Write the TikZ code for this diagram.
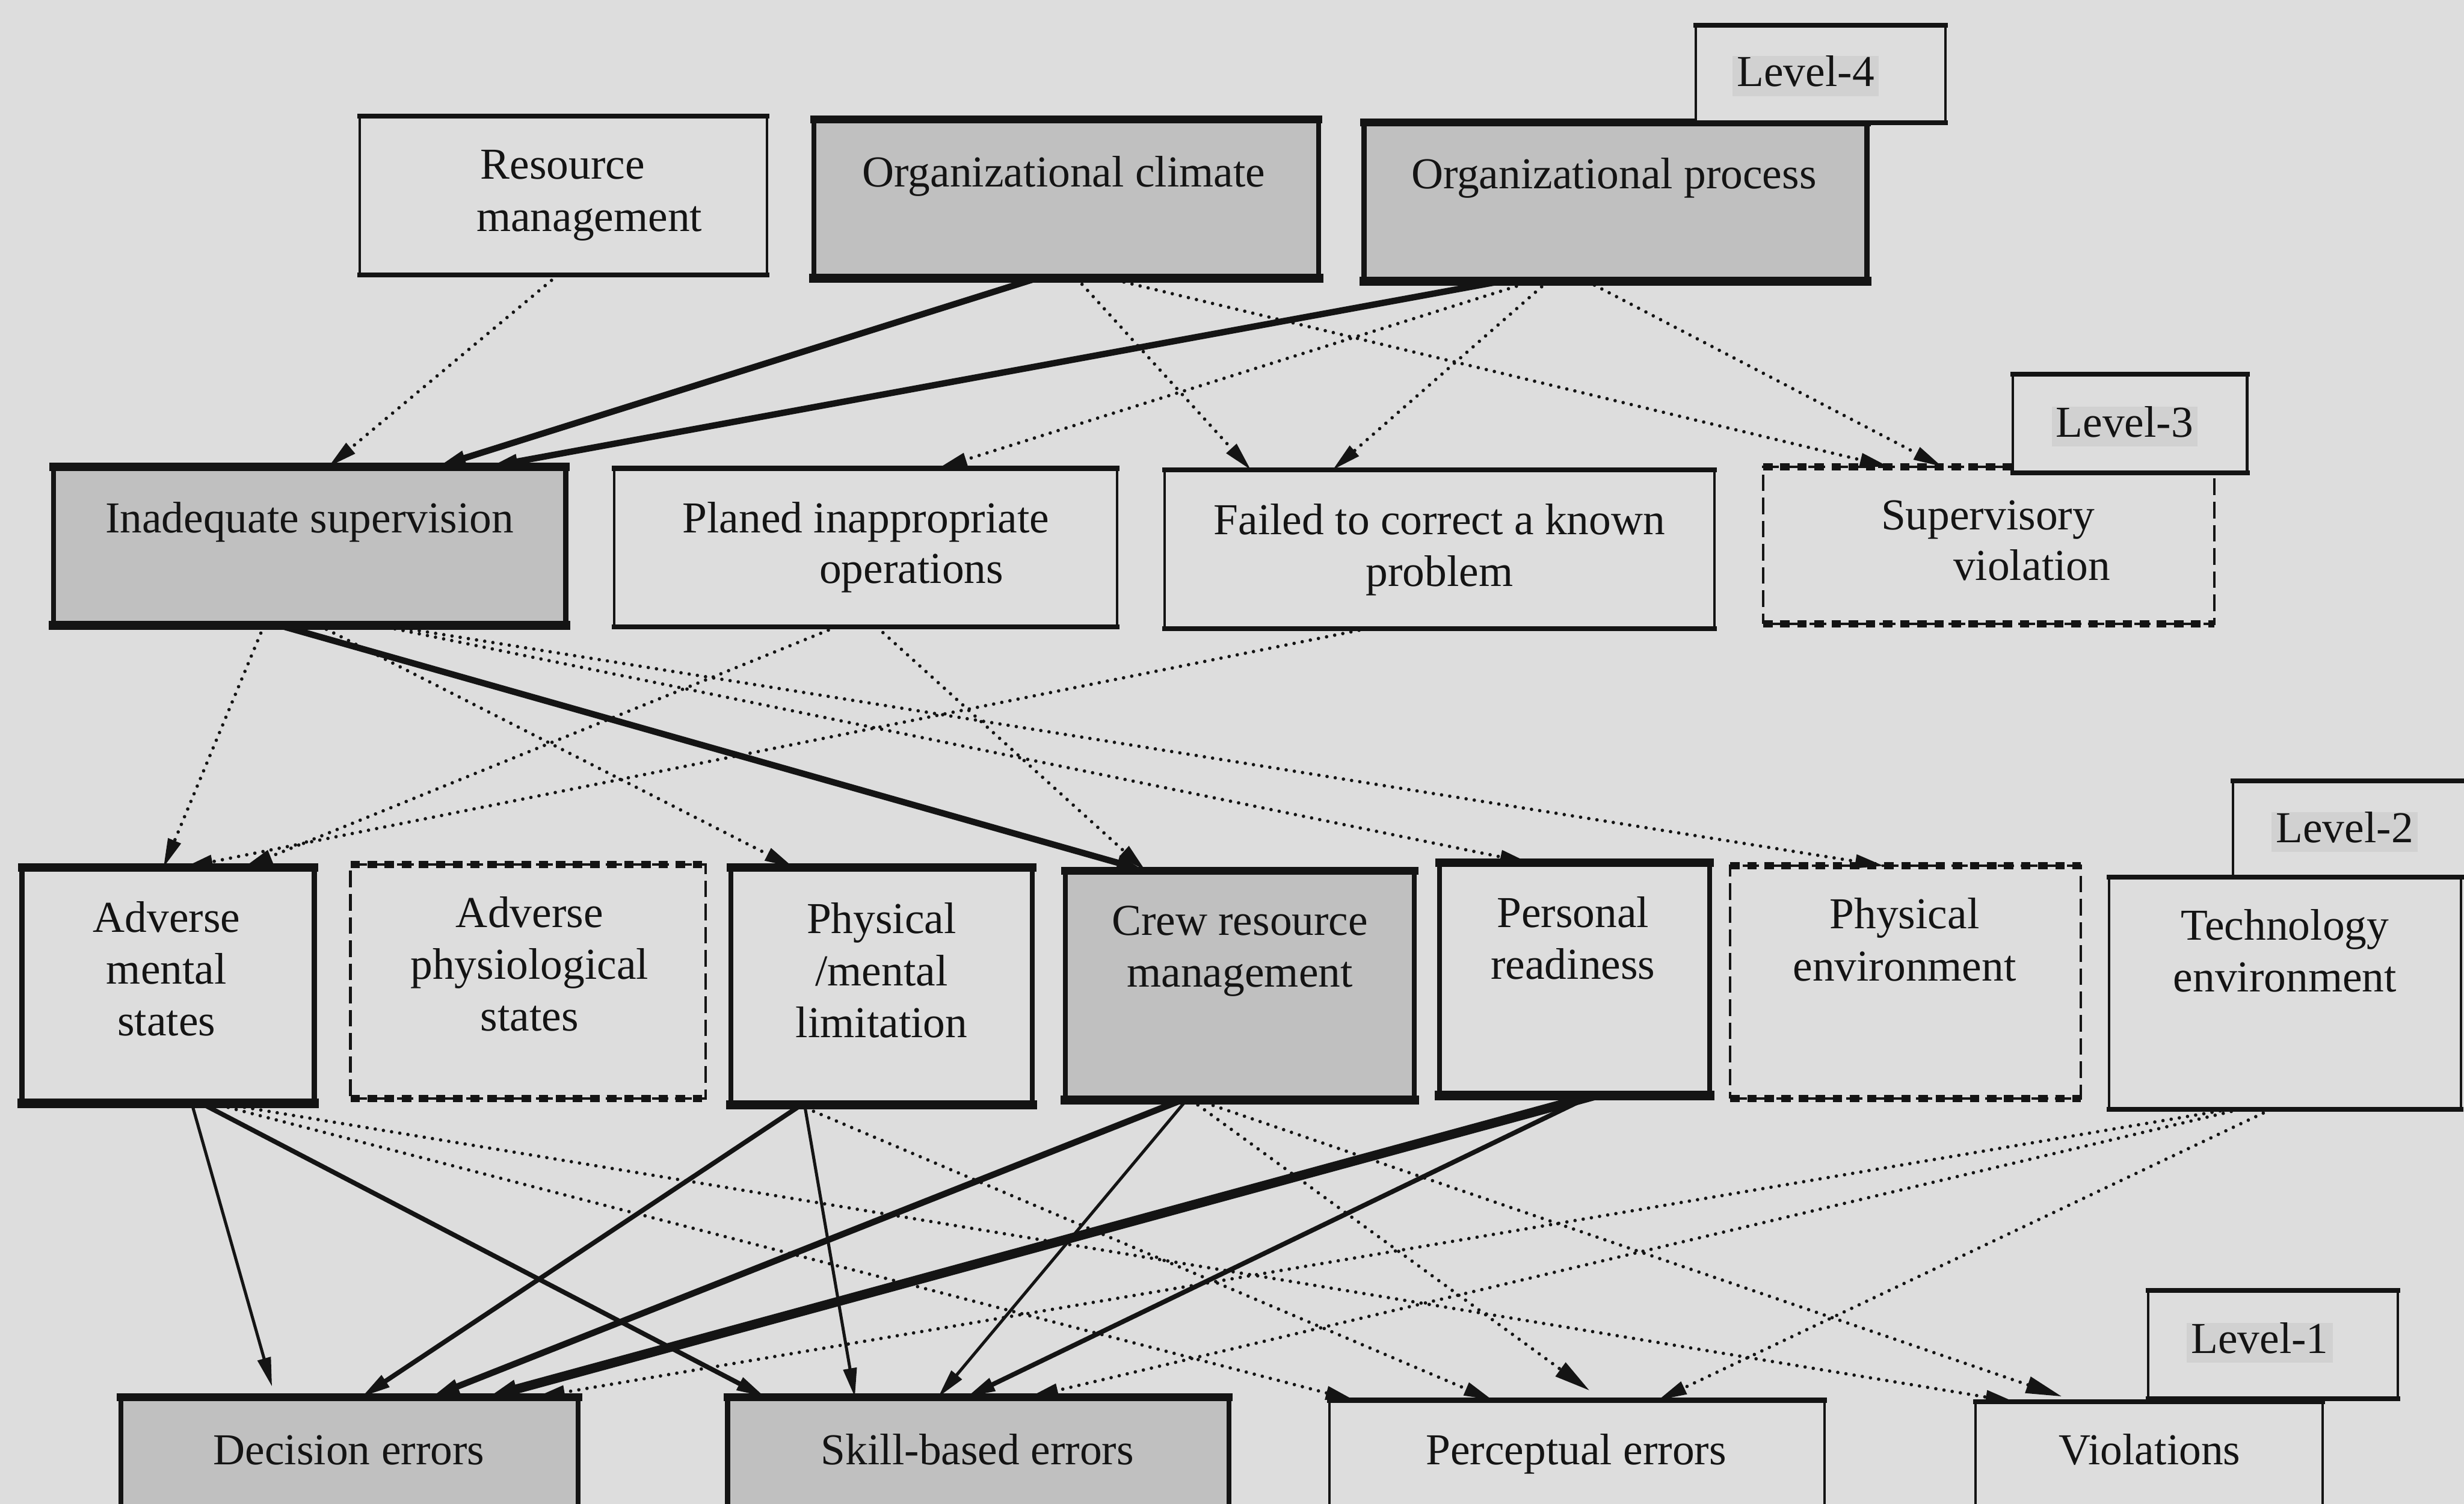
\documentclass[tikz,border=0pt]{standalone}
\usepackage{fontspec}
\setmainfont{Liberation Serif}
\usetikzlibrary{arrows.meta,fit}

\definecolor{paper}{RGB}{221,221,221}
\definecolor{shade}{RGB}{192,192,192}
\definecolor{ink}{RGB}{20,20,20}
\definecolor{tagback}{RGB}{209,209,209}

% top and bottom edges of the boxes are drawn heavier than their sides
\newcommand{\rimlight}[1]{%
  \draw[rim=1.8pt] (#1.north west) -- (#1.north east);
  \draw[rim=1.8pt] (#1.south west) -- (#1.south east);}
\newcommand{\rimheavy}[1]{%
  \draw[rim=2.9pt] (#1.north west) -- (#1.north east);
  \draw[rim=3.4pt] (#1.south west) -- (#1.south east);}
\newcommand{\rimdash}[1]{%
  \draw[dashrim] (#1.north west) -- (#1.north east);
  \draw[dashrim] (#1.south west) -- (#1.south east);}

\begin{document}
\begin{tikzpicture}[x=0.02cm,y=-0.02cm,
  every node/.style={font=\fontsize{16pt}{18.7pt}\selectfont},
  box/.style={inner sep=0pt, outer sep=0pt, fill=paper, draw=ink},
  lightbox/.style={box, line width=0.9pt},
  heavybox/.style={box, line width=1.8pt},
  greybox/.style={heavybox, fill=shade},
  dashbox/.style={box, line width=0.9pt, dash pattern=on 6pt off 2.4pt},
  rim/.style={draw=ink, line width=#1, line cap=rect},
  dashrim/.style={draw=ink, line width=2.6pt, dash pattern=on 3.4pt off 2.8pt},
  lbl/.style={inner sep=0pt, text height=11pt, text depth=3.5pt, text=ink, yshift=-1.4pt},
  tagtxt/.style={lbl, fill=tagback, inner xsep=1.5pt},
  link/.style={draw=ink, -{Triangle[length=10.5pt,width=4.8pt]}},
  dotlink/.style={link, line width=1.25pt, dash pattern=on 0pt off 3pt, line cap=round},
  bigdot/.style={dotlink, -{Triangle[length=13pt,width=6pt]}, shorten >=6pt},
  thinlink/.style={link, line width=1.1pt},
  medlink/.style={link, line width=1.7pt},
  thicklink/.style={link, line width=2.3pt},
  heavylink/.style={link, line width=3.4pt, -{Triangle[length=11pt,width=6pt]}},
]
\useasboundingbox (0,0) rectangle (1568,957);
\fill[paper] (0,0) rectangle (1568,957);

% ---------- Level 4 ----------
\node[lightbox, fit={(229,74) (488,175)}] (rm) {};
\rimlight{rm}
\node[greybox, fit={(518,76) (839,177)}] (oc) {};
\rimheavy{oc}
\node[greybox, fit={(868,78) (1188,179)}] (op) {};
\rimheavy{op}
\node[lightbox, fit={(1079,16) (1238,78)}] (t4) {};
\rimlight{t4}

\node[lbl] (rm1) at (358,105) {Resource};
\node[lbl] (rm2) at (375,138) {management};
\node[lbl] (oct) at (677,110) {Organizational climate};
\node[lbl] (opt) at (1027,111) {Organizational process};
\node[tagtxt] (t4t) at (1149,46) {Level-4};

% ---------- Level 3 ----------
\node[greybox, fit={(34,297) (360,398)}] (is) {};
\rimheavy{is}
\node[lightbox, fit={(391,298) (711,399)}] (pio) {};
\rimlight{pio}
\node[lightbox, fit={(741,299) (1091,400)}] (fcp) {};
\rimlight{fcp}
\node[dashbox, fit={(1122,297) (1409,397)}] (sv) {};
\rimdash{sv}
\node[lightbox, fit={(1281,238) (1430,301)}] (t3) {};
\rimlight{t3}

\node[lbl] (ist) at (197,330) {Inadequate supervision};
\node[lbl] (pio1) at (551,330) {Planed inappropriate};
\node[lbl] (pio2) at (580,362) {operations};
\node[lbl] (fcp1) at (916,331) {Failed to correct a known};
\node[lbl] (fcp2) at (916,364) {problem};
\node[lbl] (sv1) at (1265,328) {Supervisory};
\node[lbl] (sv2) at (1293,360) {violation};
\node[tagtxt] (t3t) at (1352,269) {Level-3};

% ---------- Level 2 ----------
\node[heavybox, fit={(14,552) (200,702)}] (ams) {};
\rimheavy{ams}
\node[dashbox, fit={(223,550) (449,699)}] (aps) {};
\rimdash{aps}
\node[heavybox, fit={(465,552) (657,703)}] (pml) {};
\rimheavy{pml}
\node[greybox, fit={(678,554) (900,700)}] (crm) {};
\rimheavy{crm}
\node[heavybox, fit={(916,549) (1088,697)}] (pr) {};
\rimheavy{pr}
\node[dashbox, fit={(1101,551) (1324,699)}] (pe) {};
\rimdash{pe}
\node[lightbox, fit={(1342,558) (1566,706)}] (te) {};
\rimlight{te}
\node[lightbox, fit={(1421,497) (1580,558)}] (t2) {};
\rimlight{t2}

\node[lbl] (ams1) at (106,584) {Adverse};
\node[lbl] (ams2) at (106,617) {mental};
\node[lbl] (ams3) at (106,650) {states};
\node[lbl] (aps1) at (337,581) {Adverse};
\node[lbl] (aps2) at (337,614) {physiological};
\node[lbl] (aps3) at (337,647) {states};
\node[lbl] (pml1) at (561,585) {Physical};
\node[lbl] (pml2) at (561,618) {/mental};
\node[lbl] (pml3) at (561,651) {limitation};
\node[lbl] (crm1) at (789,586) {Crew resource};
\node[lbl] (crm2) at (789,619) {management};
\node[lbl] (pr1) at (1001,581) {Personal};
\node[lbl] (pr2) at (1001,614) {readiness};
\node[lbl] (pe1) at (1212,582) {Physical};
\node[lbl] (pe2) at (1212,615) {environment};
\node[lbl] (te1) at (1454,589) {Technology};
\node[lbl] (te2) at (1454,622) {environment};
\node[tagtxt] (t2t) at (1492,527) {Level-2};

% ---------- Level 1 ----------
\node[greybox, fit={(77,889) (368,980)}] (de) {};
\rimheavy{de}
\node[greybox, fit={(463,889) (782,980)}] (sbe) {};
\rimheavy{sbe}
\node[lightbox, fit={(846,891) (1161,980)}] (pce) {};
\rimlight{pce}
\node[lightbox, fit={(1257,892) (1478,980)}] (vio) {};
\rimlight{vio}
\node[lightbox, fit={(1367,821) (1526,890)}] (t1) {};
\rimlight{t1}

\node[lbl] (det) at (222,923) {Decision errors};
\node[lbl] (sbet) at (622,923) {Skill-based errors};
\node[lbl] (pcet) at (1003,923) {Perceptual errors};
\node[lbl] (viot) at (1368,923) {Violations};
\node[tagtxt] (t1t) at (1438,852) {Level-1};

% ---------- Level 4 -> Level 3 ----------
\draw[dotlink]   (355,0 |- rm.south) -- (209,0 |- is.north);
\draw[thicklink] (660,0 |- oc.south) -- (278,0 |- is.north);
\draw[thicklink] (955,0 |- op.south) -- (311,0 |- is.north);
\draw[dotlink]   (685,0 |- oc.south) -- (796,0 |- fcp.north);
\draw[dotlink]   (705,0 |- oc.south) -- (1202,0 |- sv.north);
\draw[dotlink]   (975,0 |- op.south) -- (597,0 |- pio.north);
\draw[dotlink]   (985,0 |- op.south) -- (848,0 |- fcp.north);
\draw[dotlink]   (1010,0 |- op.south) -- (1236,0 |- sv.north);

% ---------- Level 3 -> Level 2 ----------
\draw[dotlink]   (168,0 |- is.south) -- (104,0 |- ams.north);
\draw[thicklink] (178,0 |- is.south) -- (729,0 |- crm.north);
\draw[dotlink]   (203,0 |- is.south) -- (505,0 |- pml.north);
\draw[dotlink]   (241,0 |- is.south) -- (973,0 |- pr.north);
\draw[dotlink]   (246,0 |- is.south) -- (1199,0 |- pe.north);
\draw[dotlink]   (532,0 |- pio.south) -- (155,0 |- ams.north);
\draw[dotlink]   (558,0 |- pio.south) -- (729,0 |- crm.north);
\draw[dotlink]   (870,0 |- fcp.south) -- (117,0 |- ams.north);

% ---------- Level 2 -> Level 1 ----------
\draw[thinlink, shorten >=4pt] (122,0 |- ams.south) -- (175,0 |- de.north);
\draw[medlink]   (128,0 |- ams.south) -- (487,0 |- sbe.north);
\draw[dotlink]   (135,0 |- ams.south) -- (862,0 |- pce.north);
\draw[dotlink]   (140,0 |- ams.south) -- (1282,0 |- vio.north);
\draw[medlink]   (510,0 |- pml.south) -- (230,0 |- de.north);
\draw[thinlink]  (512,0 |- pml.south) -- (544,0 |- sbe.north);
\draw[dotlink]   (508,0 |- pml.south) -- (950,0 |- pce.north);
\draw[thicklink] (752,0 |- crm.south) -- (274,0 |- de.north);
\draw[thinlink]  (755,0 |- crm.south) -- (597,0 |- sbe.north);
\draw[bigdot]    (758,0 |- crm.south) -- (1020,0 |- pce.north);
\draw[bigdot]    (762,0 |- crm.south) -- (1322,0 |- vio.north);
\draw[heavylink] (1015,0 |- pr.south) -- (310,0 |- de.north);
\draw[medlink]   (1013,0 |- pr.south) -- (615,0 |- sbe.north);
\draw[dotlink]   (1418,0 |- te.south) -- (341,0 |- de.north);
\draw[dotlink]   (1425,0 |- te.south) -- (655,0 |- sbe.north);
\draw[dotlink]   (1445,0 |- te.south) -- (1055,0 |- pce.north);
\end{tikzpicture}
\end{document}
